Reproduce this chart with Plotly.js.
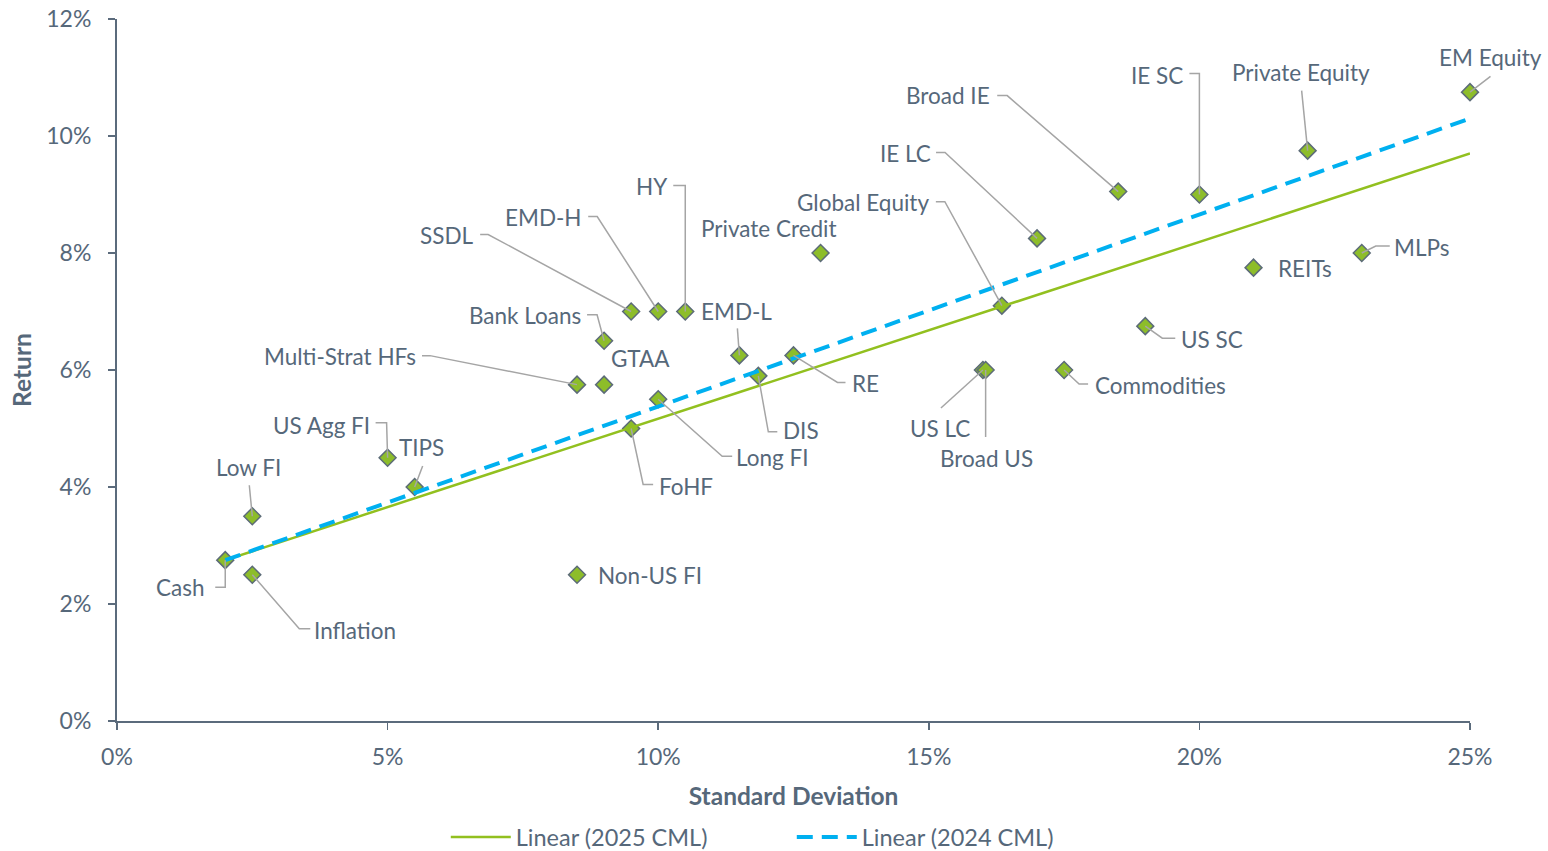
<!DOCTYPE html>
<html>
<head>
<meta charset="utf-8">
<script src="https://cdn.plot.ly/plotly-3.0.1.min.js"></script>
<style>
  html, body { margin: 0; padding: 0; background: #ffffff; }
  #chart { width: 1548px; height: 851px; }
</style>
</head>
<body>
<div id="chart"></div>
<script>
// ---- Data ----
const assetNames = ["Cash", "Inflation", "Low FI", "US Agg FI", "TIPS", "Non-US FI",
  "Multi-Strat HFs", "GTAA", "Bank Loans", "SSDL", "EMD-H", "HY", "EMD-L",
  "Private Credit", "DIS", "Long FI", "FoHF", "RE", "Global Equity", "US LC",
  "Broad US", "Commodities", "US SC", "IE LC", "Broad IE", "IE SC",
  "Private Equity", "REITs", "MLPs", "EM Equity"];
const stdDev = [2.0, 2.5, 2.5, 5.0, 5.5, 8.5,
  8.5, 9.0, 9.0, 9.5, 10.0, 10.5, 11.5,
  13.0, 11.85, 10.0, 9.5, 12.5, 16.35, 16.0,
  16.05, 17.5, 19.0, 17.0, 18.5, 20.0,
  22.0, 21.0, 23.0, 25.0];
const expReturn = [2.75, 2.5, 3.5, 4.5, 4.0, 2.5,
  5.75, 5.75, 6.5, 7.0, 7.0, 7.0, 6.25,
  8.0, 5.9, 5.5, 5.0, 6.25, 7.1, 6.0,
  6.0, 6.0, 6.75, 8.25, 9.05, 9.0,
  9.75, 7.75, 8.0, 10.75];

// Capital market lines (trend line end points)
const cml2025X = [2.0, 25.0];
const cml2025Y = [2.75, 9.7];
const cml2024X = [2.0, 25.0];
const cml2024Y = [2.75, 10.3];

const xTickVals = [0, 5, 10, 15, 20, 25];
const xTickText = ["0%", "5%", "10%", "15%", "20%", "25%"];
const yTickVals = [0, 2, 4, 6, 8, 10, 12];
const yTickText = ["0%", "2%", "4%", "6%", "8%", "10%", "12%"];

// ---- Label placement (pixel offsets from each marker; screen y down) ----
const labelPlacement = {
  "Cash":            {a: "right",  tx: -19,  ty: 27,   lead: [[0, 27], [-10, 27]]},
  "Inflation":       {a: "left",   tx: 61,   ty: 56,   lead: [[47, 54], [58, 54]]},
  "Low FI":          {a: "center", tx: -4,   ty: -49,  lead: [[-3, -31]]},
  "US Agg FI":       {a: "right",  tx: -17,  ty: -32,  lead: [[-1, -35], [-12, -35]]},
  "TIPS":            {a: "center", tx: 7,    ty: -40,  lead: [[8, -21]]},
  "Non-US FI":       {a: "left",   tx: 20,   ty: 1,    lead: []},
  "Multi-Strat HFs": {a: "right",  tx: -160, ty: -28,  lead: [[-147, -29], [-155, -29]]},
  "GTAA":            {a: "left",   tx: 6,    ty: -26,  lead: []},
  "Bank Loans":      {a: "right",  tx: -22,  ty: -25,  lead: [[-7, -26], [-17, -26]]},
  "SSDL":            {a: "right",  tx: -156, ty: -76,  lead: [[-143, -77], [-151, -77]]},
  "EMD-H":           {a: "right",  tx: -75,  ty: -94,  lead: [[-61, -95], [-70, -95]]},
  "HY":              {a: "right",  tx: -16,  ty: -125, lead: [[0, -126], [-12, -126]]},
  "EMD-L":           {a: "left",   tx: -39,  ty: -44,  lead: [[-2, -27]]},
  "Private Credit":  {a: "center", tx: -52,  ty: -25,  lead: []},
  "DIS":             {a: "left",   tx: 24,   ty: 55,   lead: [[10, 56], [19, 56]]},
  "Long FI":         {a: "left",   tx: 77,   ty: 58,   lead: [[64, 57], [74, 57]]},
  "FoHF":            {a: "left",   tx: 27,   ty: 58,   lead: [[12, 56], [22, 56]]},
  "RE":              {a: "left",   tx: 57,   ty: 28,   lead: [[44, 27], [52, 27]]},
  "Global Equity":   {a: "right",  tx: -72,  ty: -103, lead: [[-57, -104], [-66, -104]]},
  "US LC":           {a: "center", tx: -43,  ty: 58,   lead: [[-42, 38]]},
  "Broad US":        {a: "center", tx: 1,    ty: 88,   lead: [[0, 67]]},
  "Commodities":     {a: "left",   tx: 30,   ty: 15,   lead: [[15, 14], [24, 14]]},
  "US SC":           {a: "left",   tx: 35,   ty: 13,   lead: [[17, 12], [30, 12]]},
  "IE LC":           {a: "right",  tx: -105, ty: -85,  lead: [[-92, -86], [-101, -86]]},
  "Broad IE":        {a: "right",  tx: -127, ty: -96,  lead: [[-111, -96], [-121, -96]]},
  "IE SC":           {a: "right",  tx: -15,  ty: -119, lead: [[0, -121], [-10, -121]]},
  "Private Equity":  {a: "center", tx: -7,   ty: -78,  lead: [[-6, -60]]},
  "REITs":           {a: "left",   tx: 23,   ty: 1,    lead: []},
  "MLPs":            {a: "left",   tx: 31,   ty: -6,   lead: [[14, -7], [28, -7]]},
  "EM Equity":       {a: "center", tx: 20,   ty: -35,  lead: [[22, -17]]}
};

// ---- Styles ----
const FONT = "Lato, 'Open Sans', sans-serif";
const TEXT_COLOR = "#56687a";
const AXIS_COLOR = "#5b6b7c";
const LEADER_COLOR = "#a5a5a5";

const traces = [
  {
    type: "scatter", mode: "markers",
    x: stdDev, y: expReturn, text: assetNames,
    marker: {symbol: "diamond", size: 13, color: "#8dbd2a",
             line: {color: "#5c6b78", width: 1.5}},
    cliponaxis: false, showlegend: false, hoverinfo: "text+x+y"
  },
  {
    type: "scatter", mode: "lines", name: "Linear (2025 CML)",
    x: cml2025X, y: cml2025Y,
    line: {color: "#92c01f", width: 2.5}
  },
  {
    type: "scatter", mode: "lines", name: "Linear (2024 CML)",
    x: cml2024X, y: cml2024Y,
    line: {color: "#00b0f0", width: 4, dash: "16px,9px"}
  }
];

const annotations = [];
const shapes = [];
assetNames.forEach((nm, i) => {
  const p = labelPlacement[nm];
  annotations.push({
    x: stdDev[i], y: expReturn[i], xref: "x", yref: "y",
    text: nm, showarrow: false, borderpad: 0,
    xanchor: p.a, yanchor: "middle",
    xshift: p.tx, yshift: -p.ty,
    font: {family: FONT, size: 22.5, color: TEXT_COLOR}
  });
  if (p.lead.length) {
    if (nm === "EM Equity") {
      // outside plot area -> annotation arrow (not clipped)
      annotations.push({
        x: stdDev[i], y: expReturn[i], xref: "x", yref: "y",
        text: " ", showarrow: true, arrowhead: 0, arrowwidth: 1.5,
        arrowcolor: LEADER_COLOR, standoff: 0, startstandoff: 0,
        ax: p.lead[0][0], ay: p.lead[0][1],
        font: {size: 1}
      });
    } else {
      let path = "M0,0";
      p.lead.forEach(pt => { path += " L" + pt[0] + "," + (-pt[1]); });
      shapes.push({
        type: "path", xref: "x", yref: "y",
        xsizemode: "pixel", ysizemode: "pixel",
        xanchor: stdDev[i], yanchor: expReturn[i],
        path: path,
        line: {color: LEADER_COLOR, width: 1.5}
      });
    }
  }
});

const layout = {
  width: 1548, height: 851,
  paper_bgcolor: "#ffffff", plot_bgcolor: "#ffffff",
  margin: {l: 117, r: 78, t: 19, b: 130},
  font: {family: FONT, size: 22, color: TEXT_COLOR},
  showlegend: true,
  legend: {
    orientation: "h", x: 0.243, xanchor: "left",
    yref: "container", y: 0.042, yanchor: "top",
    font: {family: FONT, size: 23.5, color: TEXT_COLOR},
    itemwidth: 60, entrywidth: 271, entrywidthmode: "pixels",
    traceorder: "normal"
  },
  xaxis: {
    range: [0, 25], tickvals: xTickVals, ticktext: xTickText,
    showgrid: false, zeroline: false, automargin: false,
    showline: true, linecolor: AXIS_COLOR, linewidth: 2,
    ticks: "outside", ticklen: 7, tickwidth: 1.5, tickcolor: AXIS_COLOR,
    tickfont: {family: FONT, size: 23, color: TEXT_COLOR},
    ticklabelstandoff: 7,
    title: {text: "<b>Standard Deviation</b>", standoff: 19,
            font: {family: FONT, size: 24.5, color: TEXT_COLOR}},
    fixedrange: true
  },
  yaxis: {
    range: [0, 12], tickvals: yTickVals, ticktext: yTickText,
    showgrid: false, zeroline: false, automargin: false,
    showline: true, linecolor: AXIS_COLOR, linewidth: 2,
    ticks: "outside", ticklen: 7, tickwidth: 1.5, tickcolor: AXIS_COLOR,
    tickfont: {family: FONT, size: 23, color: TEXT_COLOR},
    ticklabelstandoff: 12,
    title: {text: "<b>Return</b>", standoff: 8,
            font: {family: FONT, size: 24.5, color: TEXT_COLOR}},
    fixedrange: true
  },
  annotations: annotations,
  shapes: shapes
};

Plotly.newPlot("chart", traces, layout, {displayModeBar: false, staticPlot: true});
</script>
</body>
</html>
